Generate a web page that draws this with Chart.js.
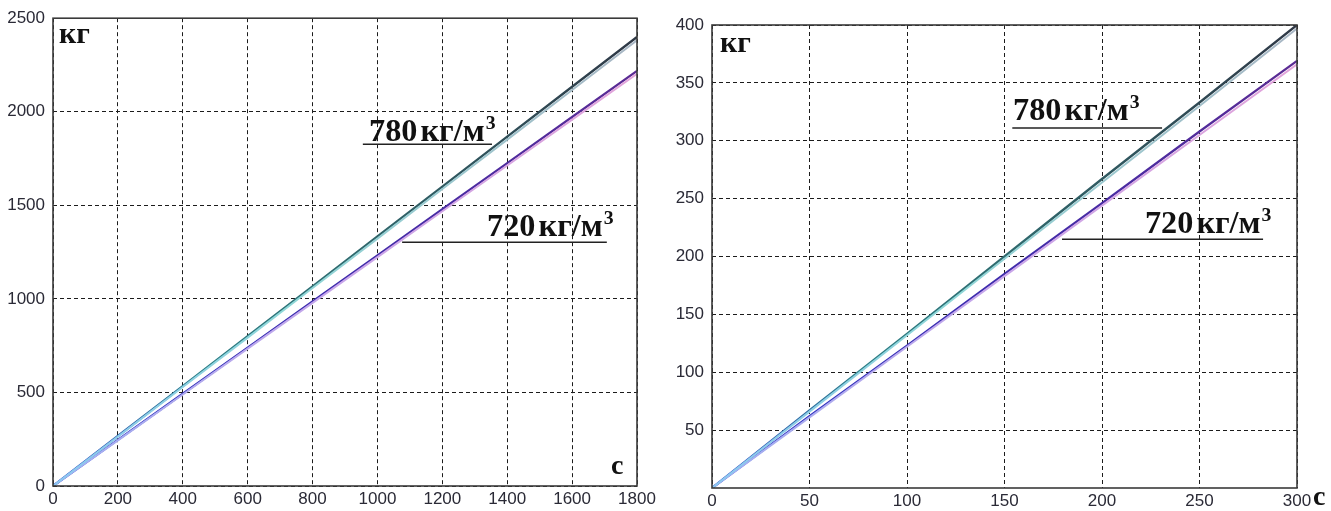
<!DOCTYPE html>
<html>
<head>
<meta charset="utf-8">
<script src="https://cdn.jsdelivr.net/npm/chart.js@4.4.1/dist/chart.umd.min.js"></script>
<style>
  html, body { margin: 0; padding: 0; background: #fff; }
  #wrap { position: relative; width: 1331px; height: 511px; overflow: hidden; }
  .panel { position: absolute; top: 0; }
  #p1 { left: 0; width: 660px; height: 511px; }
  #p2 { left: 660px; width: 671px; height: 511px; }
</style>
</head>
<body>
<div id="wrap">
  <div class="panel" id="p1"><canvas id="c1" width="660" height="511"></canvas></div>
  <div class="panel" id="p2"><canvas id="c2" width="671" height="511"></canvas></div>
</div>
<script>
// Loading time, s (left panel) and mass loaded, kg, for two bulk densities
const timeLong = [0, 200, 400, 600, 800, 1000, 1200, 1400, 1600, 1800];
const mass780Long = [0, 267, 534, 800, 1067, 1334, 1600, 1867, 2134, 2400];
const mass780LongB = [0, 264, 529, 793, 1058, 1322, 1587, 1851, 2116, 2382];
const mass720Long = [0, 246, 493, 740, 986, 1232, 1479, 1726, 1972, 2218];
const mass720LongB = [0, 244, 489, 734, 979, 1223, 1468, 1713, 1958, 2203];
const yTicksLong = [0, 500, 1000, 1500, 2000, 2500];

// Short interval, s (right panel)
const timeShort = [0, 50, 100, 150, 200, 250, 300];
const mass780Short = [0, 67, 133, 200, 267, 333, 400];
const mass780ShortB = [0, 66, 132, 198, 264, 330, 397];
const mass720Short = [0, 62, 123, 185, 246, 308, 369];
const mass720ShortB = [0, 61, 122, 183, 244, 305, 366];
const yTicksShort = [50, 100, 150, 200, 250, 300, 350, 400];

const densityLabels = ['780', '720'];
const unitText = 'кг/м';
const unitSup = '3';
const axisMass = 'кг';
const axisTime = 'с';

const pairs = (xs, ys) => xs.map((x, i) => ({ x: x, y: ys[i] }));

function grad(stops) {
  return function (ctx) {
    const chart = ctx.chart;
    const a = chart.chartArea;
    if (!a) return stops[stops.length - 1][1];
    const g = chart.ctx.createLinearGradient(a.left, 0, a.right, 0);
    stops.forEach(s => g.addColorStop(s[0], s[1]));
    return g;
  };
}

const upperDark = grad([[0, '#2c45cc'], [0.25, '#2b7f86'], [0.5, '#2f6a6e'], [1, '#2f3846']]);
const upperLight = grad([[0, '#8cc8f0'], [0.4, '#8fd8d8'], [1, '#a9b6c4']]);
const lowerDark = grad([[0, '#2a36cc'], [0.4, '#3a2cb0'], [1, '#5b2b93']]);
const lowerLight = grad([[0, '#9fb0f2'], [0.5, '#c9a6ea'], [1, '#e3a4da']]);

function datasets(t, a, aB, b, bB) {
  return [
    { data: pairs(t, aB), borderColor: upperLight, borderWidth: 2 },
    { data: pairs(t, bB), borderColor: lowerLight, borderWidth: 2 },
    { data: pairs(t, a), borderColor: upperDark, borderWidth: 2.4 },
    { data: pairs(t, b), borderColor: lowerDark, borderWidth: 2.2 }
  ].map(d => Object.assign(d, { pointRadius: 0, tension: 0, fill: false }));
}

const serifBold = size => 'bold ' + size + 'px "Liberation Serif", "Times New Roman", Times, serif';

// Frame, axis captions and density notes
const annotate = {
  id: 'annotate',
  afterDraw(chart, args, opts) {
    const ctx = chart.ctx;
    const a = chart.chartArea;
    const xs = chart.scales.x, ys = chart.scales.y;
    ctx.save();
    ctx.strokeStyle = '#3a3a3a';
    ctx.lineWidth = 1.6;
    ctx.setLineDash([]);
    ctx.strokeRect(a.left, a.top, a.right - a.left, a.bottom - a.top);

    ctx.fillStyle = '#111';
    ctx.textBaseline = 'alphabetic';
    ctx.textAlign = 'left';
    ctx.font = serifBold(30);
    ctx.fillText(axisMass, opts.massAt[0], opts.massAt[1]);
    ctx.font = serifBold(28);
    ctx.fillText(axisTime, opts.timeAt[0], opts.timeAt[1]);

    opts.notes.forEach(n => {
      const px = xs.getPixelForValue(n.x);
      const py = ys.getPixelForValue(n.y);
      // underline
      ctx.strokeStyle = '#222';
      ctx.lineWidth = 1.5;
      ctx.beginPath();
      const ly = ys.getPixelForValue(n.lineY);
      ctx.moveTo(xs.getPixelForValue(n.lineX1), ly);
      ctx.lineTo(xs.getPixelForValue(n.lineX2), ly);
      ctx.stroke();
      // label text, stretched horizontally
      ctx.save();
      ctx.translate(px, py);
      ctx.scale(n.stretch, 1);
      ctx.fillStyle = '#111';
      ctx.font = serifBold(31);
      ctx.fillText(n.num, 0, 0);
      let w = ctx.measureText(n.num).width + 3;
      ctx.fillText(unitText, w, 0);
      w += ctx.measureText(unitText).width + 1;
      ctx.font = serifBold(19);
      ctx.fillText(unitSup, w, -12);
      ctx.restore();
    });
    ctx.restore();
  }
};

function makeChart(id, cfg) {
  return new Chart(document.getElementById(id), {
    type: 'line',
    data: { datasets: cfg.datasets },
    plugins: [annotate],
    options: {
      responsive: false,
      animation: false,
      events: [],
      layout: { padding: cfg.padding },
      plugins: {
        legend: { display: false },
        tooltip: { enabled: false },
        annotate: cfg.annotate
      },
      scales: {
        x: {
          type: 'linear',
          min: cfg.xMin, max: cfg.xMax,
          afterBuildTicks: s => { s.ticks = cfg.xTicks.map(v => ({ value: v })); },
          afterFit: s => { s.height = cfg.xAxisHeight; },
          grid: { color: '#1c1c1c', lineWidth: 1, drawTicks: false },
          border: { display: false, dash: [4, 3] },
          ticks: {
            padding: 3,
            color: '#2a2a36',
            font: { family: '"Liberation Sans", Arial, sans-serif', size: 17 },
            maxRotation: 0,
            autoSkip: false,
            callback: v => String(v)
          }
        },
        y: {
          type: 'linear',
          min: cfg.yMin, max: cfg.yMax,
          afterBuildTicks: s => { s.ticks = cfg.yTicks.map(v => ({ value: v })); },
          afterFit: s => { s.width = cfg.yAxisWidth; },
          grid: { color: '#1c1c1c', lineWidth: 1, drawTicks: false },
          border: { display: false, dash: [4, 3] },
          ticks: {
            padding: 8,
            color: '#2a2a36',
            font: { family: '"Liberation Sans", Arial, sans-serif', size: 17 },
            autoSkip: false,
            callback: v => String(v)
          }
        }
      }
    }
  });
}

makeChart('c1', {
  datasets: datasets(timeLong, mass780Long, mass780LongB, mass720Long, mass720LongB),
  padding: { left: 0, right: 23, top: 18, bottom: 0 },
  xMin: 0, xMax: 1800, xTicks: timeLong,
  yMin: 0, yMax: 2500, yTicks: yTicksLong,
  xAxisHeight: 25, yAxisWidth: 53,
  annotate: {
    massAt: [59, 43],
    timeAt: [611, 474],
    notes: [
      { num: densityLabels[0], x: 974, y: 1843, stretch: 1.04, lineX1: 955, lineX2: 1353, lineY: 1827 },
      { num: densityLabels[1], x: 1338, y: 1335, stretch: 1.04, lineX1: 1076, lineX2: 1707, lineY: 1303 }
    ]
  }
});

makeChart('c2', {
  datasets: datasets(timeShort, mass780Short, mass780ShortB, mass720Short, mass720ShortB),
  padding: { left: 0, right: 34, top: 25, bottom: 0 },
  xMin: 0, xMax: 300, xTicks: timeShort,
  yMin: 0, yMax: 400, yTicks: yTicksShort,
  xAxisHeight: 23, yAxisWidth: 52,
  annotate: {
    massAt: [60, 52],
    timeAt: [653, 505],
    notes: [
      { num: densityLabels[0], x: 154.4, y: 318, stretch: 1.04, lineX1: 154, lineX2: 230.8, lineY: 311 },
      { num: densityLabels[1], x: 222, y: 220, stretch: 1.04, lineX1: 179.5, lineX2: 282.6, lineY: 215 }
    ]
  }
});
</script>
</body>
</html>
